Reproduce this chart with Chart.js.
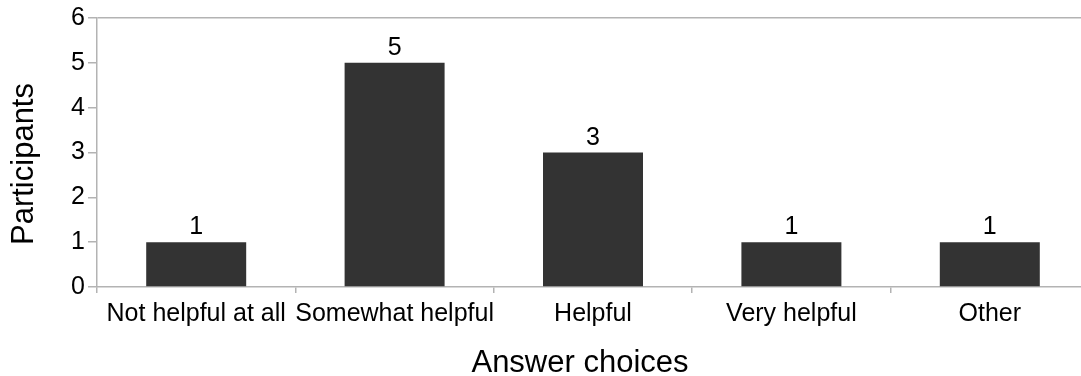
<!DOCTYPE html>
<html>
<head>
<meta charset="utf-8">
<script src="https://cdn.jsdelivr.net/npm/chart.js@4"></script>
<style>
  html, body { margin: 0; padding: 0; background: #ffffff; overflow: hidden; }
  #wrap { width: 1089px; height: 376px; position: relative; }
</style>
</head>
<body>
<div id="wrap"><canvas id="c"></canvas></div>
<script>
const categories = ['Not helpful at all', 'Somewhat helpful', 'Helpful', 'Very helpful', 'Other'];
const participants = [1, 5, 3, 1, 1];
const yTicks = [0, 1, 2, 3, 4, 5, 6];
const xTitle = 'Answer choices';
const yTitle = 'Participants';

const FONT = "'Liberation Sans', Arial, sans-serif";
const AXIS_GRAY = '#b3b3b3';

// Writes each bar's value just above it
const valueLabels = {
  id: 'valueLabels',
  afterDatasetsDraw(chart) {
    const { ctx } = chart;
    const meta = chart.getDatasetMeta(0);
    ctx.save();
    ctx.fillStyle = '#000000';
    ctx.font = '25px ' + FONT;
    ctx.textAlign = 'center';
    ctx.textBaseline = 'alphabetic';
    meta.data.forEach((bar, i) => {
      ctx.fillText(String(participants[i]), bar.x, bar.y - 8);
    });
    ctx.restore();
  }
};

// Axis titles, placed relative to the canvas edges
const axisTitles = {
  id: 'axisTitles',
  afterDraw(chart) {
    const { ctx } = chart;
    const h = chart.height;
    ctx.save();
    ctx.fillStyle = '#000000';
    ctx.font = '31px ' + FONT;
    ctx.textAlign = 'center';
    ctx.textBaseline = 'alphabetic';
    ctx.fillText(xTitle, 580, h - 4);
    ctx.translate(33, 164);
    ctx.rotate(-Math.PI / 2);
    ctx.fillText(yTitle, 0, 0);
    ctx.restore();
  }
};

new Chart(document.getElementById('c'), {
  type: 'bar',
  data: {
    labels: categories,
    datasets: [{
      data: participants,
      backgroundColor: '#333333',
      categoryPercentage: 1.0,
      barPercentage: 0.504
    }]
  },
  options: {
    responsive: true,
    maintainAspectRatio: false,
    animation: false,
    layout: { padding: { top: 17, right: 0, left: 0, bottom: 0 } },
    plugins: { legend: { display: false }, tooltip: { enabled: false } },
    scales: {
      x: {
        offset: true,
        grid: {
          offset: true,
          color: 'rgba(0,0,0,0)',
          tickColor: AXIS_GRAY,
          tickLength: 6,
          lineWidth: 1.5
        },
        border: { display: true, color: AXIS_GRAY, width: 1.5 },
        ticks: { color: '#000000', font: { family: FONT, size: 25 }, padding: 6, maxRotation: 0, autoSkip: false },
        afterFit(scale) { scale.height = 89; }
      },
      y: {
        min: 0,
        max: 6,
        afterBuildTicks(scale) { scale.ticks = yTicks.map(v => ({ value: v })); },
        grid: {
          color: ctx => (ctx.tick && ctx.tick.value === 6) ? AXIS_GRAY : 'rgba(0,0,0,0)',
          tickColor: AXIS_GRAY,
          tickLength: 9,
          lineWidth: 1.5
        },
        border: { display: true, color: AXIS_GRAY, width: 1.5 },
        ticks: { color: '#000000', font: { family: FONT, size: 25 }, padding: 3 },
        afterFit(scale) { scale.width = 97; }
      }
    }
  },
  plugins: [valueLabels, axisTitles]
});
</script>
</body>
</html>
